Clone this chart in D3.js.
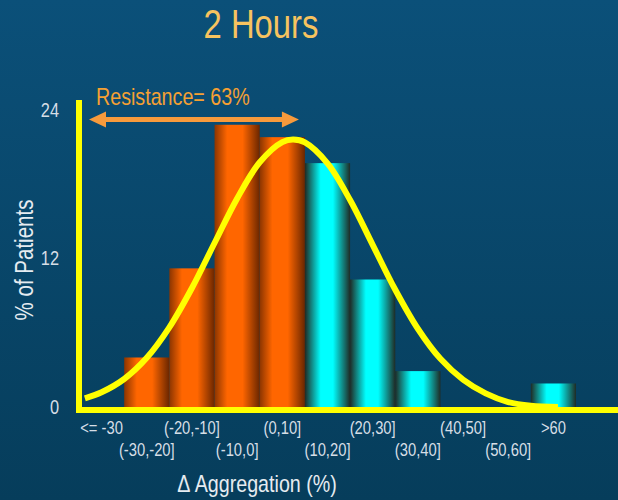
<!DOCTYPE html>
<html>
<head>
<meta charset="utf-8">
<script src="https://cdn.jsdelivr.net/npm/d3@7"></script>
<style>
  html, body { margin: 0; padding: 0; background: #084666; }
  svg { display: block; }
  text { font-family: "Liberation Sans Narrow", "Arial Narrow", "Liberation Sans", sans-serif; }
</style>
</head>
<body>
<svg id="chart" width="618" height="500"></svg>
<script>
// Δ aggregation bins after 2 hours
const categories = ["<= -30", "(-30,-20]", "(-20,-10]", "(-10,0]", "(0,10]",
                    "(10,20]", "(20,30]", "(30,40]", "(40,50]", "(50,60]", ">60"];
// share of patients in each bin (%)
const patientPct = [0, 4.0, 11.2, 22.8, 21.8, 19.7, 10.3, 2.9, 0, 0, 1.9];
// bins up to (0,10] are counted as resistant
const resistantBins = 5;
const yTicks = [0, 12, 24];

// fitted normal curve, sampled along the Δ aggregation axis
const curveX = [-38.7, -35, -30, -25, -20, -15, -10, -5, 0, 5, 7.4, 10, 15, 20, 25, 30, 35, 40, 45, 50, 55, 60, 66];
const curveY = [0.70, 1.19, 2.26, 3.97, 6.43, 9.61, 13.25, 16.85, 19.77, 21.40, 21.6, 21.37, 19.68, 16.72, 13.10, 9.47, 6.32, 3.89, 2.21, 1.10, 0.40, 0.10, 0.0];

const W = 618, H = 500;
const svg = d3.select("#chart");
const defs = svg.append("defs");

// backdrop
const bg = defs.append("linearGradient").attr("id", "bg").attr("x1", 0).attr("y1", 0).attr("x2", 0).attr("y2", 1);
bg.append("stop").attr("offset", "0%").attr("stop-color", "#0b5079");
bg.append("stop").attr("offset", "100%").attr("stop-color", "#063d5b");
svg.append("rect").attr("width", W).attr("height", H).attr("fill", "url(#bg)");

// cylinder-like shading for bars
function barGradient(id, stops) {
  const g = defs.append("linearGradient").attr("id", id)
    .attr("x1", 0).attr("y1", 0).attr("x2", 1).attr("y2", 0);
  stops.forEach(([o, c]) => g.append("stop").attr("offset", o).attr("stop-color", c));
}
barGradient("gOrange", [["0%", "#8c3500"], ["28%", "#ff6600"], ["62%", "#ff6600"], ["100%", "#6a2600"]]);
barGradient("gCyan", [["0%", "#1f2b25"], ["35%", "#00ffff"], ["62%", "#00ffff"], ["100%", "#1f2b25"]]);

// scales
const x = d3.scaleBand().domain(categories).range([79, 576]).padding(0);
const xv = d3.scaleLinear().domain([-40, 70]).range([79, 576]);
const y = d3.scaleLinear().domain([0, 24.8]).range([407, 100]);

const bars = categories.map((c, i) => ({ c, v: patientPct[i], resistant: i < resistantBins }));
const gBars = svg.append("g");
const gCurve = svg.append("g");

// bars
gBars.selectAll("rect").data(bars.filter(d => d.v > 0)).join("rect")
  .attr("x", d => x(d.c))
  .attr("y", d => y(d.v))
  .attr("width", x.bandwidth())
  .attr("height", d => y(0) - y(d.v))
  .attr("fill", d => d.resistant ? "url(#gOrange)" : "url(#gCyan)");

// normal curve
const line = d3.line().x(d => xv(d[0])).y(d => y(d[1])).curve(d3.curveCatmullRom);
gCurve.append("path")
  .datum(curveX.map((v, i) => [v, curveY[i]]))
  .attr("d", line)
  .attr("fill", "none")
  .attr("stroke", "#ffff00")
  .attr("stroke-width", 6);

// axis lines
svg.append("line").attr("x1", 79).attr("x2", 79).attr("y1", y.range()[1]).attr("y2", 413)
  .attr("stroke", "#ffff00").attr("stroke-width", 6);
svg.append("line").attr("x1", 76).attr("x2", W).attr("y1", 410).attr("y2", 410)
  .attr("stroke", "#ffff00").attr("stroke-width", 6);

// x tick labels, staggered on two rows
const gx = svg.append("g").attr("transform", "translate(0,413)")
  .call(d3.axisBottom(x).tickSize(0));
gx.select(".domain").remove();
gx.selectAll("text")
  .attr("y", (d, i) => i % 2 ? 37 : 15)
  .attr("dy", "0.35em")
  .attr("fill", "#d6dee6")
  .style("font-size", "18px")
  .style("font-family", null);

// y tick labels
const gy = svg.append("g").attr("transform", "translate(62,0)")
  .call(d3.axisLeft(y).tickValues(yTicks).tickSize(0).tickPadding(3));
gy.select(".domain").remove();
gy.selectAll("text")
  .attr("fill", "#d6dee6")
  .style("font-size", "20px")
  .style("font-family", null);

// title
svg.append("text").attr("x", 261).attr("y", 38).attr("text-anchor", "middle")
  .attr("fill", "#f7c35f").style("font-size", "40px").text("2 Hours");

// axis titles
svg.append("text").attr("transform", "translate(33,260) rotate(-90)").attr("text-anchor", "middle")
  .attr("fill", "#e6ecf1").style("font-size", "25px").text("% of Patients");
svg.append("text").attr("x", 257).attr("y", 492).attr("text-anchor", "middle")
  .attr("fill", "#e6ecf1").style("font-size", "24px").text("Δ Aggregation  (%)");

// resistance span arrow
const total = d3.sum(patientPct);
const resistant = d3.sum(patientPct.slice(0, resistantBins));
const pct = Math.round(100 * resistant / total);
const ax0 = x(categories[0]) + 10;
const ax1 = x(categories[resistantBins - 1]) + x.bandwidth() - 6;
const ay = 119.5, head = 17, hh = 8, sh = 2.5;
svg.append("path")
  .attr("d", `M${ax0},${ay} L${ax0 + head},${ay - hh} L${ax0 + head},${ay - sh} L${ax1 - head},${ay - sh}
              L${ax1 - head},${ay - hh} L${ax1},${ay} L${ax1 - head},${ay + hh} L${ax1 - head},${ay + sh}
              L${ax0 + head},${ay + sh} L${ax0 + head},${ay + hh} Z`)
  .attr("fill", "#f79a3c");
svg.append("text").attr("x", 96).attr("y", 105)
  .attr("fill", "#f5a033").style("font-size", "24px")
  .text(`Resistance= ${pct}%`);

// the typeface is set narrow: condense every label horizontally
svg.selectAll("text").each(function () {
  const len = this.getComputedTextLength();
  if (len > 0) {
    this.setAttribute("textLength", (len * 0.82).toFixed(1));
    this.setAttribute("lengthAdjust", "spacingAndGlyphs");
  }
});
</script>
</body>
</html>
